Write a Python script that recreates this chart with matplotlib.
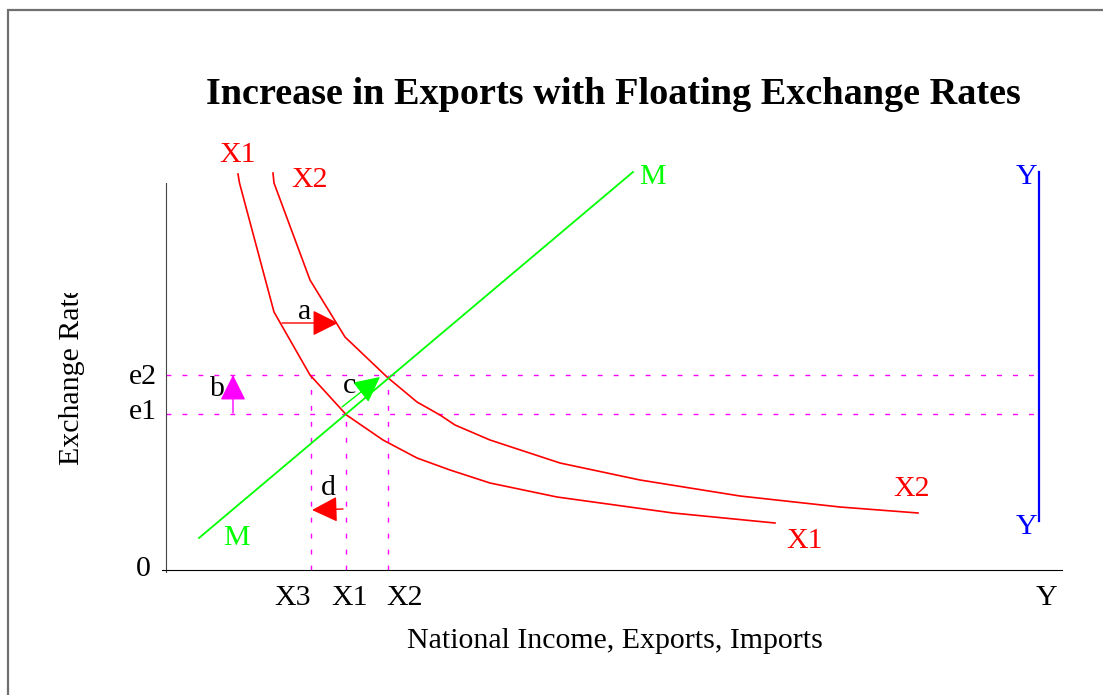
import matplotlib
matplotlib.use("Agg")
import matplotlib.pyplot as plt
from matplotlib.patches import Rectangle
from matplotlib.transforms import Bbox, TransformedBbox

plt.rcParams["font.family"] = ["Liberation Serif", "DejaVu Serif"]
plt.rcParams["lines.scale_dashes"] = False

# curve points (arbitrary units, origin at the axes corner)
x1_x = [72, 73.5, 108, 144, 180.5, 217, 251, 284, 324, 391, 507, 609]
x1_y = [396, 387, 258, 195, 155, 130, 112, 100, 87, 73, 57, 47]

x2_x = [107, 108, 144, 179, 221, 251, 274, 289, 324, 394, 474, 574, 674, 752]
x2_y = [397, 387, 290, 233, 193, 168, 155, 145, 130, 107, 90, 74, 63, 57]

m_x = [33, 467]
m_y = [32, 398]

y_line_x = 873
y_line_y = [49, 398]

# equilibrium levels
e1, e2 = 156, 195
x3_val, x1_val, x2_val = 145, 180, 222

# shift arrows: (tail, tip, colour)
arrows = [
    ((116, 247), (172, 247), "#ff0000"),
    ((67, 157), (67, 195), "#ff00ff"),
    ((176, 163), (214, 193), "#00ff00"),
    ((177, 61), (146, 60), "#ff0000"),
]

fig = plt.figure(figsize=(11.03, 6.95), dpi=100)
ax = fig.add_axes([160 / 1103, 125 / 695, 906 / 1103, 400 / 695])
ax.set_xlim(-6, 900)
ax.set_ylim(0, 400)

# figure border (only left and top visible in the original)
fig.patches.append(Rectangle((8 / 1103, -0.1), 1.2, (695 - 10) / 695 + 0.1,
                             transform=fig.transFigure, fill=False,
                             edgecolor="#707070", lw=1.6))

for s in ["top", "right"]:
    ax.spines[s].set_visible(False)
ax.spines["left"].set_position(("data", 0))
ax.spines["left"].set_bounds(-2, 387)
ax.spines["left"].set_color("#444444")
ax.spines["bottom"].set_bounds(-4, 896)
ax.set_xticks([])
ax.set_yticks([])

red, green, blue, mag = "#ff0000", "#00ff00", "#0000ff", "#ff00ff"

# dashed guides
dash = dict(color=mag, lw=1.0, dashes=(3.5, 8))
ax.plot([0, y_line_x], [e2, e2], **dash)
ax.plot([0, y_line_x], [e1, e1], **dash)
ax.plot([x3_val, x3_val], [0, e2], **dash)
ax.plot([x1_val, x1_val], [0, e1], **dash)
ax.plot([x2_val, x2_val], [0, e2], **dash)

ax.plot(x1_x, x1_y, color=red, lw=1.2, clip_on=False)
ax.plot(x2_x, x2_y, color=red, lw=1.2, clip_on=False)
ax.plot(m_x, m_y, color=green, lw=1.3)
ax.plot([y_line_x, y_line_x], y_line_y, color=blue, lw=1.6)

for tail, tip, col in arrows:
    ax.annotate("", xy=tip, xytext=tail,
                arrowprops=dict(arrowstyle="-|>,head_length=1.6,head_width=0.8",
                                color=col, lw=1.0, shrinkA=0, shrinkB=0))

fs = 21.5
labels = [
    ("X1", 72, 415, red), ("X2", 144, 390, red),
    ("M", 486, 393, green), ("Y", 861, 393, blue),
    ("M", 70, 32, green), ("X1", 639, 29, red),
    ("X2", 746, 81, red), ("Y", 861, 43, blue),
    ("a", 139, 258, "black"), ("b", 51, 181, "black"),
    ("c", 183, 184, "black"), ("d", 162, 82, "black"),
]
for txt, x, y, col in labels:
    ax.text(x, y, txt, color=col, fontsize=fs, ha="center", va="center")

# axis tick labels
for txt, y in [("e2", e2 - 2), ("e1", e1 + 2), ("0", 1)]:
    ax.text(-9 if txt != "0" else -15, y, txt, fontsize=fs, ha="right", va="center")
for txt, x in [("X3", 127), ("X1", 184), ("X2", 239), ("Y", 881)]:
    ax.text(x, -28, txt, fontsize=fs, ha="center", va="center")

fig.text(615 / 1103, 1 - 641 / 695, "National Income, Exports, Imports",
         fontsize=fs, ha="center", va="center")

# y label is cut off at the top in the original
yl = fig.text(72 / 1103, 1 - 465 / 695, "Exchange Rate", fontsize=fs,
              rotation=90, ha="center", va="bottom")
yl.set_clip_box(TransformedBbox(Bbox([[0, 0], [1, 1 - 293 / 695]]), fig.transFigure))
yl.set_clip_on(True)

fig.text(613 / 1103, 1 - 94 / 695, "Increase in Exports with Floating Exchange Rates",
         fontsize=27.5, fontweight="bold", ha="center", va="center")

fig.savefig("out.png", dpi=100)
